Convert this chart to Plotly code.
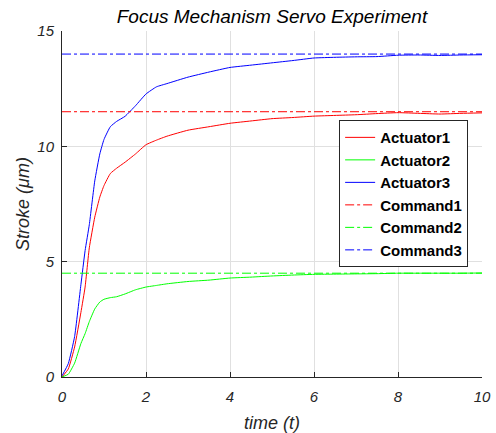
import plotly.graph_objects as go

# ---- data ----
t = [0, 0.15, 0.3, 0.45, 0.55, 0.65, 0.78, 0.9, 1.0, 1.15, 1.3, 1.5, 1.75, 2.0, 2.25,
     2.5, 3.0, 3.5, 4.0, 4.5, 5.0, 5.5, 6.0, 6.5, 7.0, 7.5, 8.0, 8.5, 9.0, 9.5, 10]

actuator1 = [0, 0.35, 1.3, 2.8, 3.9, 5.6, 6.93, 7.8, 8.3, 8.82, 9.05, 9.31, 9.67, 10.07, 10.27,
             10.44, 10.7, 10.85, 11.0, 11.1, 11.2, 11.25, 11.31, 11.34, 11.37, 11.42, 11.46, 11.43,
             11.4, 11.43, 11.45]
actuator2 = [0, 0.12, 0.6, 1.45, 1.88, 2.4, 2.95, 3.25, 3.37, 3.44, 3.48, 3.6, 3.78, 3.9, 3.97,
             4.04, 4.14, 4.2, 4.29, 4.33, 4.38, 4.42, 4.45, 4.46, 4.47, 4.48, 4.5, 4.5, 4.5, 4.5, 4.51]
actuator3 = [0.05, 0.58, 1.75, 4.0, 5.48, 6.6, 8.5, 9.67, 10.3, 10.85, 11.08, 11.3, 11.76, 12.27,
             12.58, 12.72, 13.0, 13.22, 13.42, 13.52, 13.62, 13.72, 13.83, 13.86, 13.88, 13.89,
             13.95, 13.96, 13.94, 13.96, 13.97]

command_t = [0, 10]
command1 = [11.5, 11.5]
command2 = [4.5, 4.5]
command3 = [14.0, 14.0]

x_ticks = [0, 2, 4, 6, 8, 10]
y_ticks = [0, 5, 10, 15]

title_text = "Focus Mechanism Servo Experiment"
x_title = "time (t)"
y_title = "Stroke (\u03bcm)"

# ---- figure ----
RED = "rgb(255,0,0)"
GREEN = "rgb(0,255,0)"
BLUE = "rgb(0,0,255)"
FONT = "Liberation Sans, Arial, sans-serif"

fig = go.Figure()
for name, ys, col in [("Actuator1", actuator1, RED), ("Actuator2", actuator2, GREEN),
                      ("Actuator3", actuator3, BLUE)]:
    fig.add_trace(go.Scatter(x=t, y=ys, name=name, mode="lines",
                             line=dict(color=col, width=1, shape="spline", smoothing=0.4)))
for name, ys, col in [("Command1", command1, RED), ("Command2", command2, GREEN),
                      ("Command3", command3, BLUE)]:
    fig.add_trace(go.Scatter(x=command_t, y=ys, name=name, mode="lines",
                             line=dict(color=col, width=1, dash="dashdot")))

axis_common = dict(
    showgrid=True, gridcolor="#e0e0e0", gridwidth=1, automargin=False,
    zeroline=False, showline=True, linecolor="#262626", linewidth=1,
    ticks="inside", ticklen=5, tickcolor="#262626",
    tickfont=dict(family=FONT, size=15, color="#262626", style="italic"),
    title_font=dict(family=FONT, size=18, color="#262626", style="italic"),
)

fig.update_layout(
    width=496, height=433,
    margin=dict(l=62, r=14, t=31, b=56),
    plot_bgcolor="white", paper_bgcolor="white",
    title=dict(text=title_text, x=0.5, xref="paper", y=1 - 16 / 433, yref="container",
               yanchor="middle", xanchor="center",
               font=dict(family=FONT, size=19, color="#000000", style="italic")),
    xaxis=dict(range=[0, 10], tickvals=x_ticks, ticklabelstandoff=6,
               title=dict(text=x_title, standoff=12), **axis_common),
    yaxis=dict(range=[0, 15], tickvals=y_ticks, ticklabelstandoff=4,
               title=dict(text=y_title, standoff=3), **axis_common),
    legend=dict(x=0.967, y=0.53, xanchor="right", yanchor="middle",
                bgcolor="white", bordercolor="#262626", borderwidth=1,
                font=dict(family=FONT, size=15, color="#000000", weight="bold"),
                tracegroupgap=0),
    showlegend=True,
)

fig.write_html("out.html")
